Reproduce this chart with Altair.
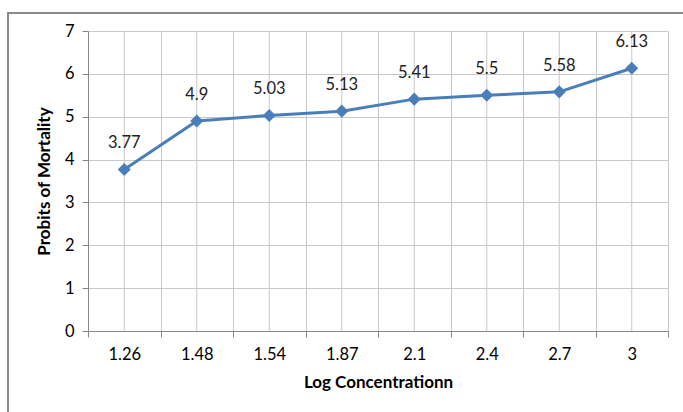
import altair as alt
import pandas as pd

categories = ["1.26", "1.48", "1.54", "1.87", "2.1", "2.4", "2.7", "3"]
probits = [3.77, 4.9, 5.03, 5.13, 5.41, 5.5, 5.58, 6.13]
value_labels = ["3.77", "4.9", "5.03", "5.13", "5.41", "5.5", "5.58", "6.13"]
y_ticks = [0, 1, 2, 3, 4, 5, 6, 7]

df = pd.DataFrame({
    "cat": categories,
    "probit": probits,
    "label": value_labels,
    "ymin": [0] * len(categories),
    "ymax": [7] * len(categories),
})

FONT = "Lato"
LINE = "#4a7ebb"
GRID = "#c8c8c8"
AXIS = "#888888"

x_scale = alt.Scale(domain=categories, paddingInner=0, paddingOuter=0)

x_enc = alt.X(
    "cat:N",
    sort=categories,
    scale=x_scale,
    axis=alt.Axis(
        title="Log Concentrationn",
        titleFont=FONT, titleFontSize=17, titleFontWeight="bold", titleColor="#000000",
        titlePadding=12,
        labelFont=FONT, labelFontSize=16.5, labelColor="#000000", labelPadding=9,
        labelAngle=0, labelOverlap=False,
        tickBand="extent",
        grid=True, gridColor=GRID, gridWidth=1,
        domainColor=AXIS, domainWidth=1,
        tickColor=AXIS, tickSize=6,
    ),
)

y_enc = alt.Y(
    "probit:Q",
    scale=alt.Scale(domain=[0, 7], nice=False),
    axis=alt.Axis(
        values=y_ticks,
        title="Probits of Mortality",
        titleFont=FONT, titleFontSize=17, titleFontWeight="bold", titleColor="#000000",
        titlePadding=11,
        labelFont=FONT, labelFontSize=16.5, labelColor="#000000", labelPadding=8,
        grid=True, gridColor=GRID, gridWidth=1,
        domainColor=AXIS, domainWidth=1,
        tickColor=AXIS, tickSize=6,
    ),
)

base = alt.Chart(df)

center_grid = base.mark_rule(color=GRID, strokeWidth=1).encode(
    x=x_enc,
    y=alt.Y("ymin:Q", scale=alt.Scale(domain=[0, 7], nice=False)),
    y2="ymax:Q",
)

line = base.mark_line(color=LINE, strokeWidth=3).encode(
    x=alt.X("cat:N", sort=categories), y=y_enc
)
points = base.mark_point(
    shape="diamond", filled=True, color=LINE, size=170, opacity=1
).encode(x=alt.X("cat:N", sort=categories), y="probit:Q")
texts = base.mark_text(
    dy=-26, font=FONT, fontSize=16.5, color="#222222"
).encode(x=alt.X("cat:N", sort=categories), y="probit:Q", text="label:N")

frame = alt.Chart(df.head(1)).mark_rect(
    filled=False, stroke="#8a8a8a", strokeWidth=2
).encode(
    x=alt.value(-80), x2=alt.value(720), y=alt.value(-18), y2=alt.value(420)
)

chart = alt.layer(center_grid, line, points, texts, frame).properties(
    width=580,
    height=300,
    autosize=alt.AutoSizeParams(type="none"),
    padding={"left": 88, "top": 31, "right": 15, "bottom": 81},
    background="white",
).configure_view(stroke=None)

chart.save("out.html", embed_options={"renderer": "svg", "actions": False})
